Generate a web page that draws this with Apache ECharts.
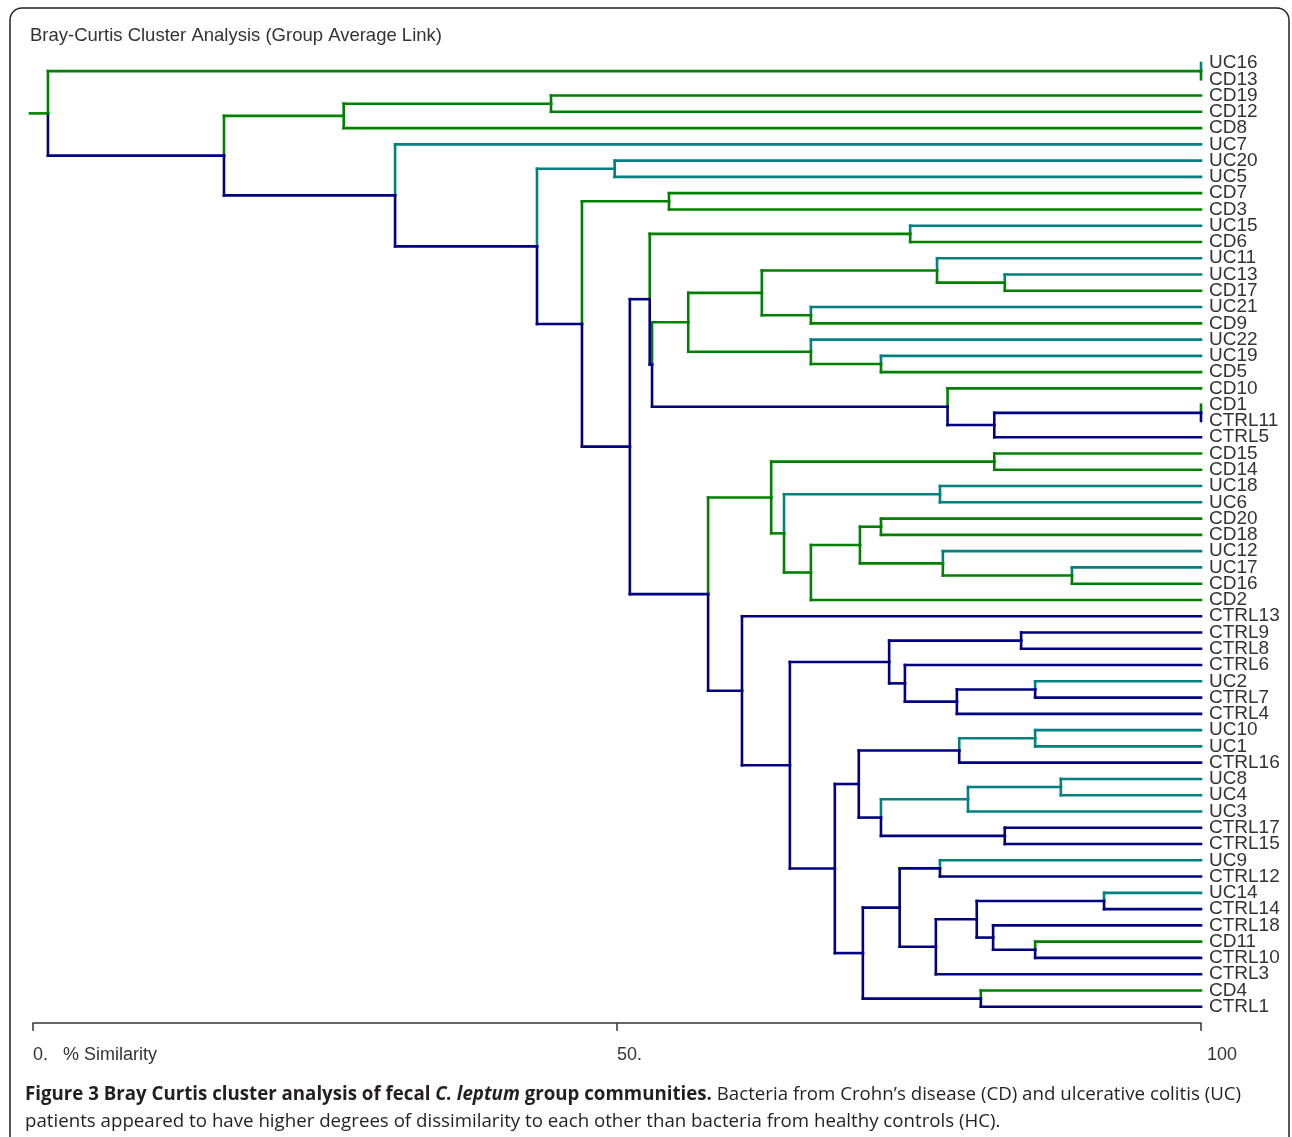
<!DOCTYPE html>
<html><head><meta charset="utf-8">
<script src="https://cdn.jsdelivr.net/npm/echarts@6/dist/echarts.min.js"></script>
<style>html,body{margin:0;padding:0;background:#fff}#c{width:1292px;height:1137px}</style>
</head><body><div id="c"></div>
<script>
// Leaves, top to bottom
const leafNames = ['UC16','CD13','CD19','CD12','CD8','UC7','UC20','UC5','CD7','CD3',
  'UC15','CD6','UC11','UC13','CD17','UC21','CD9','UC22','UC19','CD5',
  'CD10','CD1','CTRL11','CTRL5','CD15','CD14','UC18','UC6','CD20','CD18',
  'UC12','UC17','CD16','CD2','CTRL13','CTRL9','CTRL8','CTRL6','UC2','CTRL7',
  'CTRL4','UC10','UC1','CTRL16','UC8','UC4','UC3','CTRL17','CTRL15','UC9',
  'CTRL12','UC14','CTRL14','CTRL18','CD11','CTRL10','CTRL3','CD4','CTRL1'];

// Merges: [upper child, lower child, % similarity]; 'nK' refers to the K-th merge
const merges = [
  ['UC16','CD13',100],      // n0
  ['CD19','CD12',44.35],    // n1
  ['n1','CD8',26.6],        // n2
  ['UC20','UC5',49.8],      // n3
  ['CD7','CD3',54.45],      // n4
  ['UC15','CD6',75.1],      // n5
  ['UC13','CD17',83.2],     // n6
  ['UC11','n6',77.4],       // n7
  ['UC21','CD9',66.6],      // n8
  ['n7','n8',62.4],         // n9
  ['UC19','CD5',72.6],      // n10
  ['UC22','n10',66.6],      // n11
  ['n9','n11',56.1],        // n12
  ['CD1','CTRL11',100],     // n13
  ['n13','CTRL5',82.3],     // n14
  ['CD10','n14',78.3],      // n15
  ['n12','n15',53.0],       // n16
  ['n5','n16',52.8],        // n17
  ['CD15','CD14',82.3],     // n18
  ['UC18','UC6',77.65],     // n19
  ['CD20','CD18',72.6],     // n20
  ['UC17','CD16',88.95],    // n21
  ['UC12','n21',77.9],      // n22
  ['n20','n22',70.8],       // n23
  ['n23','CD2',66.6],       // n24
  ['n19','n24',64.3],       // n25
  ['n18','n25',63.2],       // n26
  ['CTRL9','CTRL8',84.6],   // n27
  ['UC2','CTRL7',85.8],     // n28
  ['n28','CTRL4',79.1],     // n29
  ['CTRL6','n29',74.65],    // n30
  ['n27','n30',73.3],       // n31
  ['UC10','UC1',85.8],      // n32
  ['n32','CTRL16',79.3],    // n33
  ['UC8','UC4',88.0],       // n34
  ['n34','UC3',80.05],      // n35
  ['CTRL17','CTRL15',83.2], // n36
  ['n35','n36',72.6],       // n37
  ['n33','n37',70.7],       // n38
  ['UC9','CTRL12',77.65],   // n39
  ['UC14','CTRL14',91.7],   // n40
  ['CD11','CTRL10',85.8],   // n41
  ['CTRL18','n41',82.2],    // n42
  ['n40','n42',80.8],       // n43
  ['n43','CTRL3',77.3],     // n44
  ['n39','n44',74.2],       // n45
  ['CD4','CTRL1',81.15],    // n46
  ['n45','n46',71.05],      // n47
  ['n38','n47',68.65],      // n48
  ['n31','n48',64.8],       // n49
  ['CTRL13','n49',60.7],    // n50
  ['n26','n50',57.8],       // n51
  ['n17','n51',51.1],       // n52
  ['n4','n52',47.0],        // n53
  ['n3','n53',43.15],       // n54
  ['UC7','n54',31.0],       // n55
  ['n2','n55',16.35],       // n56
  ['n0','n56',1.28]         // n57 root
];
const rootStubStart = -0.26;
const xTickValues = [0, 50, 100];
const xTickLabels = ['0.   % Similarity', '50.', '{p|100}'];

const groupColors = ['#008000', '#008080', '#000080']; // CD, UC, CTRL
function leafGroup(n){ return n.indexOf('CTRL')===0 ? 2 : (n.indexOf('CD')===0 ? 0 : 1); }
const nodes = {};
leafNames.forEach((n,i)=>{ nodes[n] = {x:100, y:i, g:leafGroup(n)}; });
const segs = [];
merges.forEach((m,k)=>{
  const a = nodes[m[0]], b = nodes[m[1]];
  const g = (a.g===2||b.g===2) ? 2 : ((a.g===0||b.g===0) ? 0 : 1);
  const node = {x:m[2], y:(a.y+b.y)/2, g:g};
  [a,b].forEach(c=>{
    segs.push([node.x, c.y, node.x, node.y, c.g]);
    segs.push([node.x, c.y, c.x, c.y, c.g]);
  });
  nodes['n'+k] = node;
});
const root = nodes['n'+(merges.length-1)];
segs.push([rootStubStart, root.y, root.x, root.y, 0]);

const sans = "'Liberation Sans', Arial, sans-serif";
const chart = echarts.init(document.getElementById('c'), null, {renderer:'canvas'});
chart.setOption({
  animation:false,
  backgroundColor:'#fff',
  title:[{
    text:'Bray-Curtis Cluster Analysis (Group Average Link)',
    left:30, top:26, padding:0,
    textStyle:{fontFamily:sans, fontSize:18.5, fontWeight:'normal', color:'#333'}
  },{
    text:'{b|Figure 3 Bray Curtis cluster analysis of fecal }{bi|C. leptum}{b| group communities.}{r| Bacteria from Crohn\u2019s disease (CD) and ulcerative colitis (UC)}\n{r|patients appeared to have higher degrees of dissimilarity to each other than bacteria from healthy controls (HC).}',
    left:25, top:1081, padding:0,
    textStyle:{
      rich:{
        b:{fontFamily:"'Open Sans', sans-serif", fontSize:18.7, fontWeight:'bold', color:'#231f20', lineHeight:27},
        bi:{fontFamily:"'Open Sans', sans-serif", fontSize:18.7, fontWeight:'bold', fontStyle:'italic', color:'#231f20', lineHeight:27},
        r:{fontFamily:"'Open Sans', sans-serif", fontSize:18.7, fontWeight:'normal', color:'#231f20', lineHeight:27}
      }
    }
  }],
  graphic:[{
    type:'rect', silent:true, z:-10,
    shape:{x:10, y:8, width:1279, height:1250, r:12},
    style:{fill:'none', stroke:'#222', lineWidth:1.5}
  }],
  grid:{left:33, right:91, top:46.73, bottom:114, containLabel:false},
  xAxis:{
    type:'value', min:0, max:100, interval:50, position:'bottom',
    axisLine:{show:true, onZero:false, lineStyle:{color:'#333', width:1.5}},
    axisTick:{show:true, inside:false, length:8, lineStyle:{color:'#333', width:1.5}},
    splitLine:{show:false},
    axisLabel:{
      align:'left', margin:23, fontFamily:sans, fontSize:18, color:'#333',
      rich:{p:{fontFamily:sans, fontSize:18, color:'#333', padding:[0,0,0,6]}},
      formatter:function(v){ const i = xTickValues.indexOf(v); return i>=0 ? xTickLabels[i] : ''; }
    }
  },
  yAxis:{
    type:'value', inverse:true, min:-1, max:59, interval:1, position:'right',
    axisLine:{show:false}, axisTick:{show:false}, splitLine:{show:false},
    axisLabel:{
      show:true, margin:8, fontFamily:sans, fontSize:19, color:'#333',
      showMinLabel:true, showMaxLabel:true,
      formatter:function(v){ const i = Math.round(v); return leafNames[i] || ''; }
    }
  },
  series:[{
    type:'custom',
    coordinateSystem:'cartesian2d',
    clip:false,
    encode:{x:[0,2], y:[1,3]},
    data:segs,
    renderItem:function(params, api){
      const p1 = api.coord([api.value(0), api.value(1)]);
      const p2 = api.coord([api.value(2), api.value(3)]);
      return {type:'line', shape:{x1:p1[0], y1:p1[1], x2:p2[0], y2:p2[1]},
        style:{stroke:groupColors[api.value(4)], lineWidth:2.6, lineCap:'square'}};
    }
  }]
});
</script>
</body></html>
